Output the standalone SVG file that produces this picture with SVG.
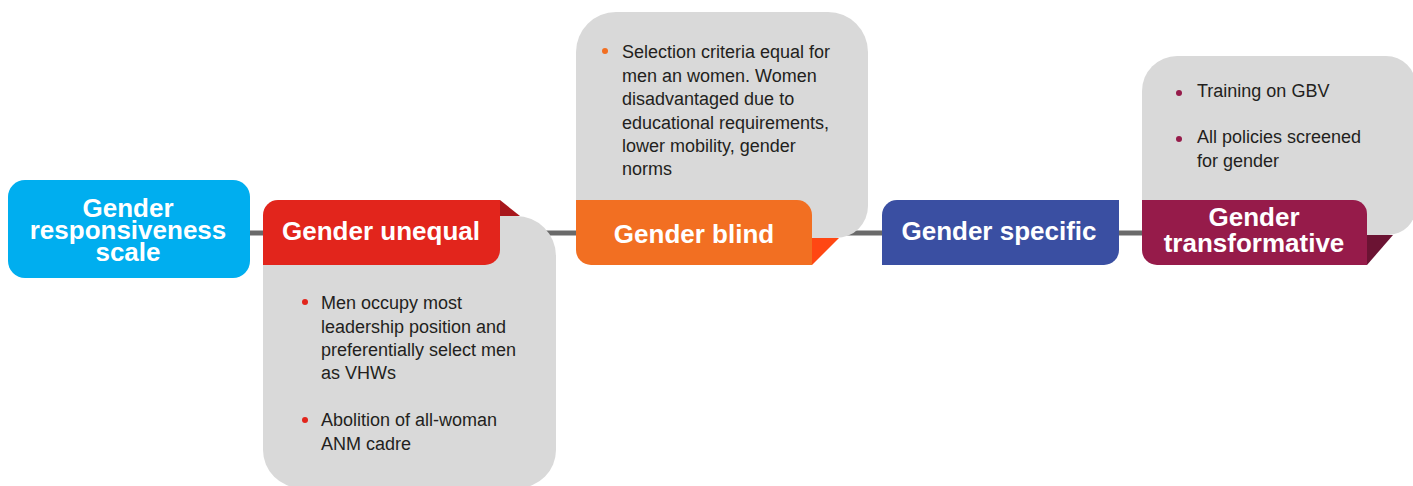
<svg xmlns="http://www.w3.org/2000/svg" width="1413" height="486" viewBox="0 0 1413 486">
  <style>
    .panel { fill: #D9D9D9; }
    .title { font-family: "Liberation Sans", Arial, sans-serif; font-weight: bold; font-size: 26px; fill: #FFFFFF; text-anchor: middle; }
    .body { font-family: "Liberation Sans", Arial, sans-serif; font-size: 18px; fill: #231F20; }
    .link { stroke: #6A6A6A; stroke-width: 5; fill: none; }
  </style>
  <rect width="1413" height="486" fill="#FFFFFF"/>

  <!-- scale line joining the stages -->
  <g id="connectors">
    <line class="link" x1="250" y1="233" x2="263" y2="233"/>
    <line class="link" x1="500" y1="233" x2="576" y2="233"/>
    <line class="link" x1="812" y1="233" x2="882" y2="233"/>
    <line class="link" x1="1119" y1="233" x2="1142" y2="233"/>
  </g>

  <g id="scale">
    <rect x="8" y="180" width="242" height="98" rx="17" fill="#00AEEF"/>
    <text class="title" x="128" y="217">Gender</text>
    <text class="title" x="128" y="239" font-size="25">responsiveness</text>
    <text class="title" x="128" y="261">scale</text>
  </g>

  <g id="unequal">
    <path class="panel" d="M263,216 H516 A40,40 0 0 1 556,256 V450 A38,38 0 0 1 518,488 H301 A38,38 0 0 1 263,450 Z"/>
    <path d="M263,265 V215 A15,15 0 0 1 278,200 H500 V250 A15,15 0 0 1 485,265 Z" fill="#E2251C"/>
    <path d="M500,200 L520,216 H500 Z" fill="#A8171C"/>
    <text class="title" x="381" y="240">Gender unequal</text>
    <circle cx="305" cy="302" r="3" fill="#E2251C"/>
    <text class="body" x="321" y="309">Men occupy most</text>
    <text class="body" x="321" y="332.5">leadership position and</text>
    <text class="body" x="321" y="356">preferentially select men</text>
    <text class="body" x="321" y="379">as VHWs</text>
    <circle cx="305" cy="420" r="3" fill="#E2251C"/>
    <text class="body" x="321" y="426">Abolition of all-woman</text>
    <text class="body" x="321" y="449.5">ANM cadre</text>
  </g>

  <g id="blind">
    <path class="panel" d="M576,238 V52 A40,40 0 0 1 616,12 H828 A40,40 0 0 1 868,52 V206 A32,32 0 0 1 836,238 Z"/>
    <path d="M576,200 H797 A15,15 0 0 1 812,215 V265 H591 A15,15 0 0 1 576,250 Z" fill="#F26F22"/>
    <path d="M812,238 H839 L812,265 Z" fill="#FF4713"/>
    <text class="title" x="694" y="243">Gender blind</text>
    <circle cx="605" cy="51" r="3" fill="#F26F22"/>
    <text class="body" x="622" y="58">Selection criteria equal for</text>
    <text class="body" x="622" y="81.5">men an women. Women</text>
    <text class="body" x="622" y="105">disadvantaged due to</text>
    <text class="body" x="622" y="128.5">educational requirements,</text>
    <text class="body" x="622" y="152">lower mobility, gender</text>
    <text class="body" x="622" y="175">norms</text>
  </g>

  <g id="specific">
    <path d="M882,265 V215 A15,15 0 0 1 897,200 H1119 V250 A15,15 0 0 1 1104,265 Z" fill="#3A4FA2"/>
    <text class="title" x="999" y="240">Gender specific</text>
  </g>

  <g id="transformative">
    <path class="panel" d="M1142,235 V91 A35,35 0 0 1 1177,56 H1386 A30,30 0 0 1 1416,86 V207 A28,28 0 0 1 1388,235 Z"/>
    <path d="M1142,200 H1353 A14,14 0 0 1 1367,214 V265 H1157 A15,15 0 0 1 1142,250 Z" fill="#961B4A"/>
    <path d="M1367,235 H1393 L1367,265 Z" fill="#6B1333"/>
    <text class="title" x="1254" y="225.5">Gender</text>
    <text class="title" x="1254" y="251.5">transformative</text>
    <circle cx="1179" cy="93" r="3" fill="#961B4A"/>
    <text class="body" x="1197" y="97">Training on GBV</text>
    <circle cx="1179" cy="139" r="3" fill="#961B4A"/>
    <text class="body" x="1197" y="143">All policies screened</text>
    <text class="body" x="1197" y="166.5">for gender</text>
  </g>
</svg>
